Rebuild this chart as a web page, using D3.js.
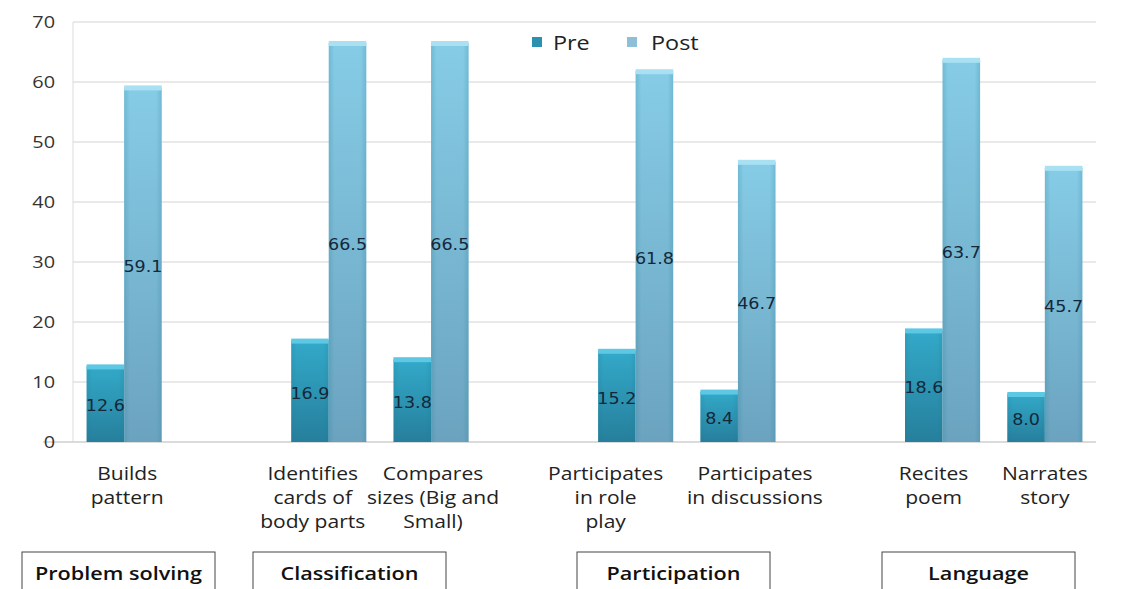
<!DOCTYPE html>
<html><head><meta charset="utf-8">
<script src="https://cdn.jsdelivr.net/npm/d3@7/dist/d3.min.js"></script>
<style>body{margin:0;background:#fff;}svg{display:block;}</style>
</head><body>
<svg id="chart" width="1123" height="589"></svg>
<script>
const slots = ["Builds pattern","gap1","Identifies cards of body parts","Compares sizes (Big and Small)","gap2","Participates in role play","Participates in discussions","gap3","Recites poem","Narrates story"];
const categories = ["Builds pattern","Identifies cards of body parts","Compares sizes (Big and Small)","Participates in role play","Participates in discussions","Recites poem","Narrates story"];
const labelLines = [["Builds","pattern"],["Identifies","cards of","body parts"],["Compares","sizes (Big and","Small)"],["Participates","in role","play"],["Participates","in discussions"],["Recites","poem"],["Narrates","story"]];
const pre = [12.6,16.9,13.8,15.2,8.4,18.6,8.0];
const post = [59.1,66.5,66.5,61.8,46.7,63.7,45.7];
const yTicks = [0,10,20,30,40,50,60,70];
const groups = ["Problem solving","Classification","Participation","Language"];

(function(){
// layout (not data)
const groupBoxes = [[22,215],[253,446],[577,770],[882,1075]];
const labelDx = [3,-16,2,-30,17,-9,0];
const SX = 1.17;
const svg = d3.select("#chart");
const pL = 73, pR = 1096, pT = 22, pB = 442;
const x = d3.scaleBand().domain(slots).range([pL,pR]).paddingInner(0.266).paddingOuter(0.133);
const y = d3.scaleLinear().domain([0,70]).range([pB,pT]);
const font = "'Open Sans', Lato, sans-serif";
function stext(parent, cx, cy){
  return parent.append("text").attr("transform",`translate(${cx},${cy}) scale(${SX},1)`);
}

const defs = svg.append("defs");
const gPre = defs.append("linearGradient").attr("id","gPre").attr("x1",0).attr("y1",0).attr("x2",0).attr("y2",1);
gPre.append("stop").attr("offset","0%").attr("stop-color","#33a9c9");
gPre.append("stop").attr("offset","100%").attr("stop-color","#267f9c");
const gPost = defs.append("linearGradient").attr("id","gPost").attr("x1",0).attr("y1",0).attr("x2",0).attr("y2",1);
gPost.append("stop").attr("offset","0%").attr("stop-color","#86cce6");
gPost.append("stop").attr("offset","100%").attr("stop-color","#6ba3bf");
const gEdge = defs.append("linearGradient").attr("id","gEdge").attr("x1",0).attr("y1",0).attr("x2",1).attr("y2",0);
gEdge.append("stop").attr("offset","0%").attr("stop-color","#1f7893").attr("stop-opacity",0.35);
gEdge.append("stop").attr("offset","15%").attr("stop-color","#1f7893").attr("stop-opacity",0);
gEdge.append("stop").attr("offset","85%").attr("stop-color","#1f7893").attr("stop-opacity",0);
gEdge.append("stop").attr("offset","100%").attr("stop-color","#1f7893").attr("stop-opacity",0.35);

svg.append("g").selectAll("line").data(yTicks.filter(d=>d>0)).join("line")
  .attr("x1",pL).attr("x2",pR).attr("y1",d=>y(d)).attr("y2",d=>y(d))
  .attr("stroke","#d4d4d4").attr("stroke-width",1.2);
svg.append("line").attr("x1",pL).attr("x2",pL).attr("y1",pT).attr("y2",pB).attr("stroke","#dcdcdc");
svg.append("line").attr("x1",pL-30).attr("x2",pR).attr("y1",pB).attr("y2",pB).attr("stroke","#cfcfcf").attr("stroke-width",1.5);

const yAxis = d3.axisLeft(y).tickValues(yTicks).tickSize(0).tickPadding(0);
const ya = svg.append("g").attr("transform",`translate(${pL-18},0)`).call(yAxis);
ya.select(".domain").remove();
ya.selectAll("text").attr("x",0).attr("transform",`scale(${SX},1)`)
  .attr("font-family",font).attr("font-size",17).attr("fill","#333");

const bw = x.bandwidth()/2;
const bars = svg.append("g");
categories.forEach((c,i)=>{
  const x0 = x(c);
  [[pre[i],"url(#gPre)",0,"#5cc8e4"],[post[i],"url(#gPost)",bw,"#a9e1f3"]].forEach(([v,fill,off,cap])=>{
    const g = bars.append("g");
    g.append("rect").attr("x",x0+off).attr("y",y(v)).attr("width",bw).attr("height",pB-y(v)).attr("fill",fill);
    g.append("rect").attr("x",x0+off).attr("y",y(v)).attr("width",bw).attr("height",pB-y(v)).attr("fill","url(#gEdge)").attr("opacity",0.6);
    g.append("rect").attr("x",x0+off).attr("y",y(v)-2).attr("width",bw).attr("height",5).attr("fill",cap);
    stext(g, x0+off+bw/2, (y(v)+pB)/2+2).attr("dy","0.35em")
      .attr("text-anchor","middle").attr("font-family","'DejaVu Sans', sans-serif").attr("font-size",15)
      .attr("fill","#14283a").text(v.toFixed(1));
  });
  const cx = x0 + x.bandwidth()/2 + labelDx[i];
  const t = stext(svg, cx, 480).attr("text-anchor","middle").attr("font-family",font).attr("font-size",18).attr("fill","#222");
  labelLines[i].forEach((ln,k)=>{
    t.append("tspan").attr("x",0).attr("y",k*24).text(ln);
  });
});

const leg = svg.append("g");
[["Pre","#2a92b0",532,553],["Post","#8ebfd8",627,651]].forEach(([name,col,sx,tx])=>{
  leg.append("rect").attr("x",sx).attr("y",37).attr("width",10).attr("height",10).attr("fill",col);
  stext(leg, tx, 50).attr("font-family",font).attr("font-size",20).attr("fill","#222").text(name);
});

groups.forEach((g,i)=>{
  const [a,b] = groupBoxes[i];
  svg.append("rect").attr("x",a).attr("y",552).attr("width",b-a).attr("height",50).attr("fill","none").attr("stroke","#444").attr("stroke-width",1);
  stext(svg, (a+b)/2, 580).attr("text-anchor","middle").attr("font-family",font).attr("font-weight",600).attr("font-size",18.5).attr("fill","#111").text(g);
});
})();
</script>
</body></html>
